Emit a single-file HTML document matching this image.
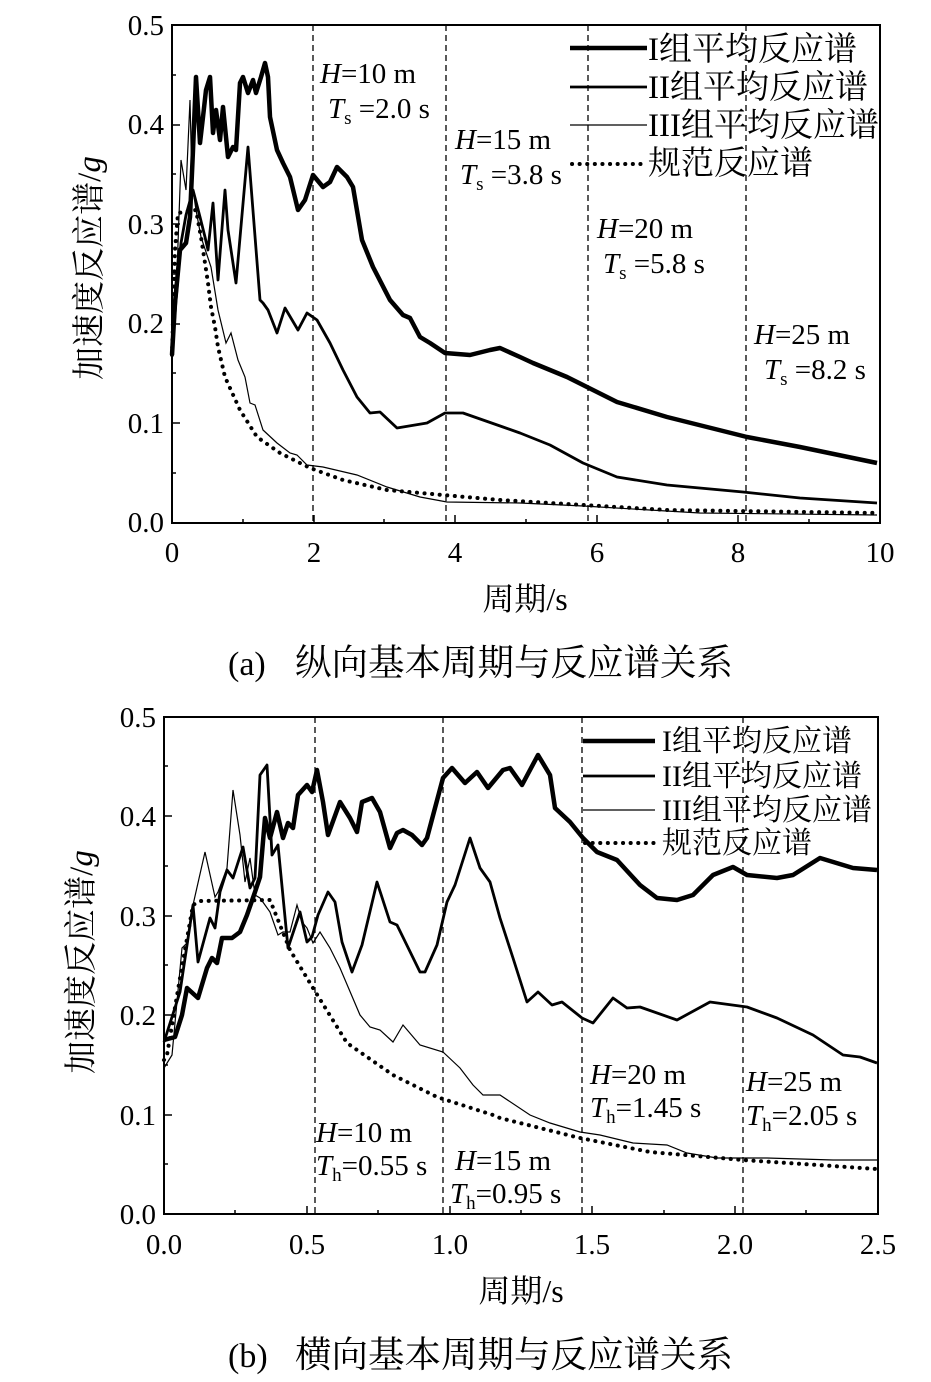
<!DOCTYPE html>
<html><head><meta charset="utf-8"><style>
body{margin:0;background:#fff}
svg{display:block}
text{font-family:"Liberation Serif","Noto Serif CJK SC","Noto Sans CJK SC",serif;fill:#000}
</style></head><body>
<svg width="931" height="1382" viewBox="0 0 931 1382" xmlns="http://www.w3.org/2000/svg">
<g fill="none" stroke="#000">
<rect x="172" y="25" width="708" height="498" stroke-width="2"/>
<g stroke-width="1.3" stroke-dasharray="6,4">
<line x1="313" y1="25" x2="313" y2="523"/><line x1="446" y1="25" x2="446" y2="523"/>
<line x1="588" y1="25" x2="588" y2="523"/><line x1="746" y1="25" x2="746" y2="523"/>
</g>
<g stroke-width="1.5">
<line x1="172" y1="523" x2="180" y2="523"/><line x1="172" y1="423" x2="180" y2="423"/><line x1="172" y1="324" x2="180" y2="324"/><line x1="172" y1="224" x2="180" y2="224"/><line x1="172" y1="125" x2="180" y2="125"/>
<line x1="172" y1="473" x2="176" y2="473"/><line x1="172" y1="373" x2="176" y2="373"/><line x1="172" y1="274" x2="176" y2="274"/><line x1="172" y1="174" x2="176" y2="174"/><line x1="172" y1="75" x2="176" y2="75"/>
<line x1="314" y1="523" x2="314" y2="515"/><line x1="455" y1="523" x2="455" y2="515"/><line x1="597" y1="523" x2="597" y2="515"/><line x1="738" y1="523" x2="738" y2="515"/>
<line x1="243" y1="523" x2="243" y2="519"/><line x1="384" y1="523" x2="384" y2="519"/><line x1="526" y1="523" x2="526" y2="519"/><line x1="668" y1="523" x2="668" y2="519"/><line x1="809" y1="523" x2="809" y2="519"/>
</g>
<polyline stroke-width="4.5" stroke-linejoin="round" points="172,355 175,303 180,250 186,243 190,217 193,150 196,77 200,143 203,117 206,90 210,77 213,133 216,110 220,140 223,107 228,157 233,147 236,150 240,83 243,77 248,93 253,80 256,93 261,77 265,63 268,77 270,117 277,150 283,163 290,177 298,210 305,200 313,175 323,187 330,182 337,167 347,177 353,187 362,240 373,267 390,300 403,315 410,318 420,337 430,343 445,353 470,355 490,350 500,348 520,357 533,363 567,377 587,387 617,402 667,417 747,437 800,447 877,463"/>
<polyline stroke-width="2.8" stroke-linejoin="round" points="172,355 176,300 181,243 186,215 193,190 200,217 205,237 208,250 213,203 218,280 225,190 228,230 236,283 248,147 260,300 263,303 268,310 277,333 285,308 298,330 307,313 317,320 330,343 343,370 357,397 370,413 380,412 397,428 427,423 445,413 463,413 503,427 520,433 550,445 583,463 617,477 667,485 743,492 800,498 877,503"/>
<polyline stroke-width="1.2" points="172,360 176,300 181,160 186,190 190,100 192,183 196,210 201,237 211,267 218,310 226,343 231,333 238,360 245,377 250,403 255,405 263,430 277,443 290,453 297,455 307,465 323,467 357,475 387,487 420,497 447,502 520,503 583,506 700,513 877,515"/>
<polyline stroke-width="4" stroke-dasharray="0.1,7.5" stroke-linecap="round" points="172,355 175,250 178,213 196,210 201,237 205,263 208,283 211,307 215,327 218,347 225,377 240,410 257,437 280,453 310,468 343,480 387,490 443,495 500,500 667,510 877,513"/>
<line x1="570" y1="48" x2="647" y2="48" stroke-width="4.5"/>
<line x1="570" y1="87" x2="647" y2="87" stroke-width="2.8"/>
<line x1="570" y1="125" x2="647" y2="125" stroke-width="1.2"/>
<line x1="572" y1="164" x2="647" y2="164" stroke-width="4" stroke-dasharray="0.1,7.5" stroke-linecap="round"/>

<rect x="164" y="717" width="714" height="497" stroke-width="2"/>
<g stroke-width="1.3" stroke-dasharray="6,4">
<line x1="315" y1="717" x2="315" y2="1214"/><line x1="443" y1="717" x2="443" y2="1214"/>
<line x1="582" y1="717" x2="582" y2="1214"/><line x1="743" y1="717" x2="743" y2="1214"/>
</g>
<g stroke-width="1.5">
<line x1="164" y1="1115" x2="172" y2="1115"/><line x1="164" y1="1015" x2="172" y2="1015"/><line x1="164" y1="916" x2="172" y2="916"/><line x1="164" y1="816" x2="172" y2="816"/>
<line x1="164" y1="1164" x2="168" y2="1164"/><line x1="164" y1="1065" x2="168" y2="1065"/><line x1="164" y1="965" x2="168" y2="965"/><line x1="164" y1="866" x2="168" y2="866"/><line x1="164" y1="766" x2="168" y2="766"/>
<line x1="307" y1="1214" x2="307" y2="1206"/><line x1="450" y1="1214" x2="450" y2="1206"/><line x1="592" y1="1214" x2="592" y2="1206"/><line x1="735" y1="1214" x2="735" y2="1206"/>
<line x1="235" y1="1214" x2="235" y2="1210"/><line x1="378" y1="1214" x2="378" y2="1210"/><line x1="521" y1="1214" x2="521" y2="1210"/><line x1="664" y1="1214" x2="664" y2="1210"/><line x1="806" y1="1214" x2="806" y2="1210"/>
</g>
<polyline stroke-width="4.5" stroke-linejoin="round" points="164,1040 175,1037 182,1015 187,988 198,998 207,968 212,958 217,963 222,938 232,938 240,932 247,915 255,892 260,877 265,818 270,838 277,812 283,838 288,823 293,828 298,795 307,785 312,792 317,770 323,802 328,835 340,802 350,818 357,832 362,802 372,798 380,812 390,848 397,833 403,830 412,835 422,845 427,838 443,778 452,768 465,783 477,772 488,788 503,770 510,768 522,785 538,755 550,775 555,808 570,822 583,838 597,852 617,860 640,885 657,898 677,900 693,895 713,875 733,867 747,875 777,878 793,875 820,858 853,868 877,870"/>
<polyline stroke-width="2.8" stroke-linejoin="round" points="164,1042 180,992 193,905 198,962 210,918 215,928 220,892 227,870 233,878 243,847 250,888 255,878 260,775 267,765 272,855 278,845 288,948 300,912 307,942 312,937 318,915 328,892 335,902 342,942 352,972 362,945 377,882 390,922 397,925 420,972 425,972 437,945 447,902 455,885 470,838 480,868 490,882 500,918 513,958 527,1002 538,992 552,1005 562,1002 582,1018 593,1023 613,998 627,1008 640,1007 677,1020 710,1002 747,1007 777,1018 813,1035 843,1055 860,1057 877,1063"/>
<polyline stroke-width="1.2" points="164,1068 172,1055 182,948 188,942 193,905 205,852 215,897 218,892 227,868 233,790 240,835 245,882 250,858 255,895 260,898 270,912 278,935 283,932 290,932 297,905 302,922 307,928 313,943 320,932 330,948 340,968 360,1015 370,1027 380,1030 393,1042 403,1025 420,1045 443,1052 460,1068 473,1085 483,1095 500,1095 530,1115 550,1123 580,1132 600,1135 633,1143 667,1145 687,1153 717,1158 767,1158 833,1160 877,1160"/>
<polyline stroke-width="4" stroke-dasharray="0.1,7.5" stroke-linecap="round" points="164,1060 167,1055 180,978 193,905 200,901 270,900 290,950 313,988 347,1043 393,1075 437,1097 493,1115 500,1118 580,1138 650,1152 743,1160 877,1169"/>
<line x1="583" y1="741" x2="655" y2="741" stroke-width="4.5"/>
<line x1="583" y1="776" x2="655" y2="776" stroke-width="2.8"/>
<line x1="583" y1="810" x2="655" y2="810" stroke-width="1.2"/>
<line x1="585" y1="843" x2="655" y2="843" stroke-width="4" stroke-dasharray="0.1,7.5" stroke-linecap="round"/>
</g>

<g font-size="29">
<text x="164" y="35" text-anchor="end">0.5</text>
<text x="164" y="134" text-anchor="end">0.4</text>
<text x="164" y="234" text-anchor="end">0.3</text>
<text x="164" y="333" text-anchor="end">0.2</text>
<text x="164" y="433" text-anchor="end">0.1</text>
<text x="164" y="532" text-anchor="end">0.0</text>
<text x="172" y="562" text-anchor="middle">0</text>
<text x="314" y="562" text-anchor="middle">2</text>
<text x="455" y="562" text-anchor="middle">4</text>
<text x="597" y="562" text-anchor="middle">6</text>
<text x="738" y="562" text-anchor="middle">8</text>
<text x="880" y="562" text-anchor="middle">10</text>
<text x="525" y="610" text-anchor="middle" font-size="32">周期/s</text>
<text x="228" y="675" font-size="34">(a)</text>
<text x="295" y="675" font-size="36.5">纵向基本周期与反应谱关系</text>
<g font-size="33">
<text x="648" y="60">I组平均反应谱</text>
<text x="648" y="98">II组平均反应谱</text>
<text x="648" y="136">III组平均反应谱</text>
<text x="648" y="174">规范反应谱</text>
</g>
<text x="320" y="83"><tspan font-style="italic">H</tspan>=10 m</text>
<text x="328" y="118"><tspan font-style="italic">T</tspan><tspan font-size="19" dy="6">s</tspan><tspan dy="-6"> =2.0 s</tspan></text>
<text x="455" y="149"><tspan font-style="italic">H</tspan>=15 m</text>
<text x="460" y="184"><tspan font-style="italic">T</tspan><tspan font-size="19" dy="6">s</tspan><tspan dy="-6"> =3.8 s</tspan></text>
<text x="597" y="238"><tspan font-style="italic">H</tspan>=20 m</text>
<text x="603" y="273"><tspan font-style="italic">T</tspan><tspan font-size="19" dy="6">s</tspan><tspan dy="-6"> =5.8 s</tspan></text>
<text x="754" y="344"><tspan font-style="italic">H</tspan>=25 m</text>
<text x="764" y="379"><tspan font-style="italic">T</tspan><tspan font-size="19" dy="6">s</tspan><tspan dy="-6"> =8.2 s</tspan></text>
<text transform="translate(100,268) rotate(-90)" text-anchor="middle" font-size="33">加速度反应谱/<tspan font-style="italic">g</tspan></text>
</g>
<g font-size="29">
<text x="156" y="727" text-anchor="end">0.5</text>
<text x="156" y="826" text-anchor="end">0.4</text>
<text x="156" y="926" text-anchor="end">0.3</text>
<text x="156" y="1025" text-anchor="end">0.2</text>
<text x="156" y="1125" text-anchor="end">0.1</text>
<text x="156" y="1224" text-anchor="end">0.0</text>
<text x="164" y="1254" text-anchor="middle">0.0</text>
<text x="307" y="1254" text-anchor="middle">0.5</text>
<text x="450" y="1254" text-anchor="middle">1.0</text>
<text x="592" y="1254" text-anchor="middle">1.5</text>
<text x="735" y="1254" text-anchor="middle">2.0</text>
<text x="878" y="1254" text-anchor="middle">2.5</text>
<text x="521" y="1302" text-anchor="middle" font-size="32">周期/s</text>
<text x="228" y="1367" font-size="34">(b)</text>
<text x="295" y="1367" font-size="36.5">横向基本周期与反应谱关系</text>
<g font-size="30">
<text x="662" y="751">I组平均反应谱</text>
<text x="662" y="786">II组平均反应谱</text>
<text x="662" y="820">III组平均反应谱</text>
<text x="662" y="853">规范反应谱</text>
</g>
<text x="316" y="1142"><tspan font-style="italic">H</tspan>=10 m</text>
<text x="316" y="1175"><tspan font-style="italic">T</tspan><tspan font-size="19" dy="6">h</tspan><tspan dy="-6">=0.55 s</tspan></text>
<text x="455" y="1170"><tspan font-style="italic">H</tspan>=15 m</text>
<text x="450" y="1203"><tspan font-style="italic">T</tspan><tspan font-size="19" dy="6">h</tspan><tspan dy="-6">=0.95 s</tspan></text>
<text x="590" y="1084"><tspan font-style="italic">H</tspan>=20 m</text>
<text x="590" y="1117"><tspan font-style="italic">T</tspan><tspan font-size="19" dy="6">h</tspan><tspan dy="-6">=1.45 s</tspan></text>
<text x="746" y="1091"><tspan font-style="italic">H</tspan>=25 m</text>
<text x="746" y="1125"><tspan font-style="italic">T</tspan><tspan font-size="19" dy="6">h</tspan><tspan dy="-6">=2.05 s</tspan></text>
<text transform="translate(92,962) rotate(-90)" text-anchor="middle" font-size="33">加速度反应谱/<tspan font-style="italic">g</tspan></text>
</g>
</svg>
</body></html>
